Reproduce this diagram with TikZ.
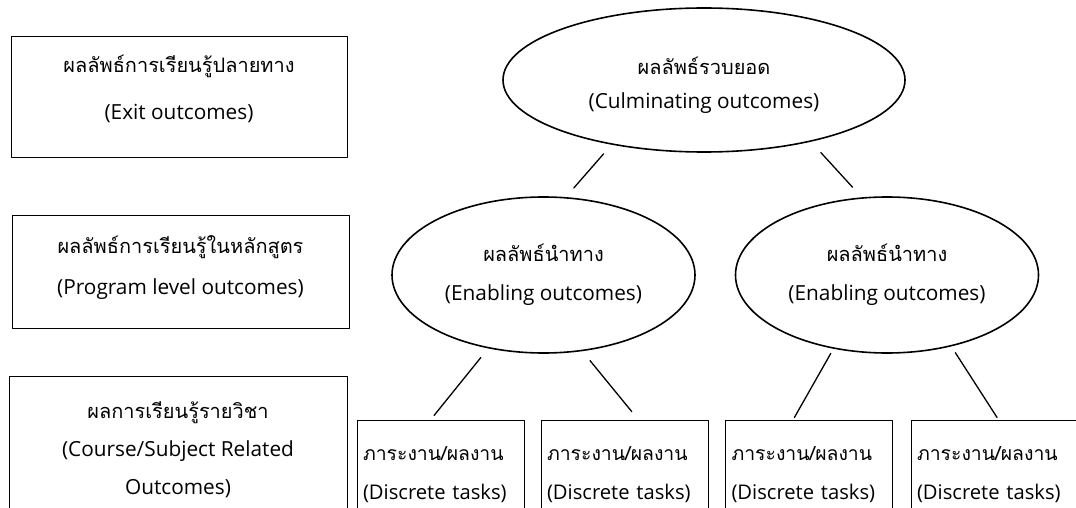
\documentclass[tikz,border=0pt]{standalone}
\usepackage{fontspec}
\setmainfont{Open Sans}
\newfontfamily\thaifont[Script=Thai, Scale=0.96]{Loma}
\usetikzlibrary{shapes.geometric}
\begin{document}
\begin{tikzpicture}[x=1pt, y=-1pt, line join=round, line cap=round,
	box/.style={draw, line width=1pt, inner sep=0pt, align=center},
	oval/.style={draw, ellipse, line width=1.6pt, inner sep=0pt, align=center},
	task/.style={draw, line width=1pt, inner xsep=6pt, inner ysep=0pt, text width=155pt, align=left, minimum height=109pt, font=\fontsize{20.2}{39}\selectfont},
	link/.style={line width=1.3pt}]
	\useasboundingbox (0,0) rectangle (1076,508);
	\clip (0,0) rectangle (1076,508);
	% levels on the left
	\node[box, minimum width=336pt, minimum height=121pt, font=\fontsize{20.8}{47}\selectfont] (exit) at (179,97) {{\thaifont ผลลัพธ์การเรียนรู้ปลายทาง}\\(Exit outcomes)\rule[-19pt]{0pt}{19pt}};
	\node[box, minimum width=337pt, minimum height=113pt, font=\fontsize{20.8}{41}\selectfont] (prog) at (180.5,271.5) {{\thaifont ผลลัพธ์การเรียนรู้ในหลักสูตร}\\(Program level outcomes)\rule[-13pt]{0pt}{13pt}};
	\node[box, minimum width=338pt, minimum height=148pt, font=\fontsize{20.8}{38}\selectfont] (course) at (178,450) {{\thaifont ผลการเรียนรู้รายวิชา}\\(Course/Subject Related\\Outcomes)};
	% the tree
	\node[oval, minimum width=402pt, minimum height=144pt, font=\fontsize{20.8}{34}\selectfont] (top) at (704,80) {\rule{0pt}{28pt}{\thaifont ผลลัพธ์รวบยอด}\\(Culminating outcomes)};
	\foreach \n/\x in {en1/543.5, en2/887}
		\node[oval, minimum width=303pt, minimum height=156pt, font=\fontsize{20.8}{39}\selectfont] (\n) at (\x,275) {{\thaifont ผลลัพธ์นำทาง}\\(Enabling outcomes)};
	\foreach \n/\x in {t1/440.5, t2/624.5, t3/809, t4/994.5}
		\node[task] (\n) at (\x,474.5) {{\thaifont ภาระงาน/ผลงาน}\\(Discrete tasks)};
	% links, they do not touch the shapes
	\foreach \a/\b/\s/\e in {top.215/en1.74/12pt/12pt, top.330/en2.108/14.6pt/13.7pt,
		en1.233/t1.100/11.8pt/5.2pt, en1.297/t2.76/12.2pt/10.2pt,
		en2.234/t3.106/5.4pt/2.3pt, en2.312/t4.86/7.4pt/2.4pt}
		\draw[link, shorten <=\s, shorten >=\e] (\a) -- (\b);
\end{tikzpicture}
\end{document}
